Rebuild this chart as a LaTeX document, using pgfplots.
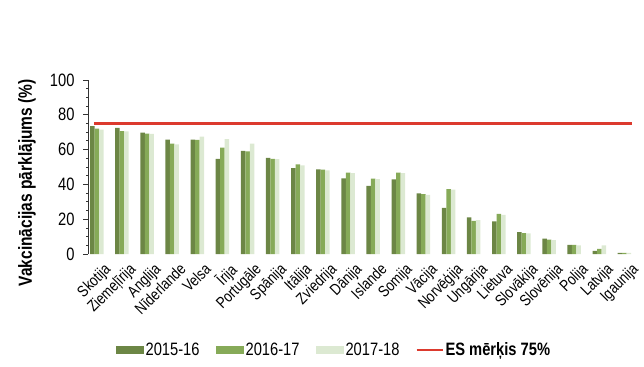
\documentclass[border=0pt]{standalone}
\usepackage{fontspec}
\setmainfont[FakeStretch=0.82]{Liberation Sans}
\usepackage{pgfplots}
\usepackage{pgfplotstable}
\pgfplotsset{compat=1.18}
\definecolor{c1}{HTML}{6C8645}
\definecolor{c2}{HTML}{86AA58}
\definecolor{c3}{HTML}{DCE9D2}
\definecolor{cred}{HTML}{DC3A2E}
\pgfplotstableread{
idx a b c
0 73.5 72.0 71.5
1 72.5 70.6 70.5
2 69.8 69.2 69.0
3 65.8 63.4 63.0
4 65.8 65.6 67.5
5 54.7 61.2 66.0
6 59.2 59.0 63.5
7 55.3 54.7 54.5
8 49.4 51.5 51.0
9 48.7 48.5 48.0
10 43.5 46.7 46.5
11 39.1 43.3 43.0
12 42.9 46.8 46.5
13 34.8 34.4 34.0
14 26.5 37.3 37.0
15 21.0 19.0 19.5
16 18.7 23.1 22.5
17 12.6 12.0 11.8
18 8.8 8.2 8.0
19 5.3 5.3 5.0
20 1.8 3.0 5.0
21 0.6 0.6 0.6
}\datatable
\begin{document}
\begin{tikzpicture}[x=1bp,y=1bp]
\path[use as bounding box] (0,0) rectangle (644,366);
\begin{axis}[
  at={(88bp,112bp)}, anchor=south west,
  scale only axis, width=544bp, height=174bp,
  ymin=0, ymax=100, ytick={0,20,...,100},
  minor y tick num=3,
  xmin=-0.35, xmax=21.3,
  axis y line*=left, axis x line*=bottom,
  x axis line style={draw=none},
  xtick={0,...,21},
  xticklabels={Skotija,Ziemeļīrija,Anglija,Nīderlande,Velsa,Īrija,Portugāle,Spānija,Itālija,Zviedrija,Dānija,Islande,Somija,Vācija,Norvēģija,Ungārija,Lietuva,Slovākija,Slovēnija,Polija,Latvija,Igaunija},
  xtick style={draw=none},
  xticklabel style={rotate=45, anchor=north east, font=\fontsize{16}{16}\selectfont, inner sep=0.5bp, xshift=3bp, yshift=-6bp},
  yticklabel style={font=\fontsize{18}{18}\selectfont, xshift=-5bp},
  /pgf/number format/assume math mode=true,
  y axis line style={black!80, line width=0.8bp},
  ytick style={black!80, line width=0.8bp},
  major tick length=5bp, minor tick length=2bp,
  tick align=outside,
  ylabel={\textbf{Vakcinācijas pārklājums (\%)}},
  ylabel style={font=\fontsize{19}{19}\selectfont, at={(axis description cs:-0.112,0.41)}, anchor=center},
  ybar=0pt, bar width=4.5bp,
  legend style={at={(0.452,-0.552)}, anchor=center, draw=none, fill=none,
    legend columns=4, font=\fontsize{18}{18}\selectfont,
    /tikz/every even column/.append style={column sep=14bp}},
  clip=false,
]
\addplot[fill=c1, draw=none, legend image code/.code={\fill[c1] (0bp,-4bp) rectangle (28bp,4bp);}] table[x=idx, y=a] {\datatable};
\addplot[fill=c2, draw=none, legend image code/.code={\fill[c2] (0bp,-4bp) rectangle (28bp,4bp);}] table[x=idx, y=b] {\datatable};
\addplot[fill=c3, draw=none, legend image code/.code={\fill[c3] (0bp,-4bp) rectangle (28bp,4bp);}] table[x=idx, y=c] {\datatable};
\addplot[sharp plot, cred, line width=3bp, legend image code/.code={\draw[cred, line width=2bp] (0bp,0bp) -- (26bp,0bp);}] coordinates {(-0.12,75) (21.3,75)};
\legend{2015-16,2016-17,2017-18,\textbf{ES mērķis 75\%}}
\end{axis}
\end{tikzpicture}
\end{document}
